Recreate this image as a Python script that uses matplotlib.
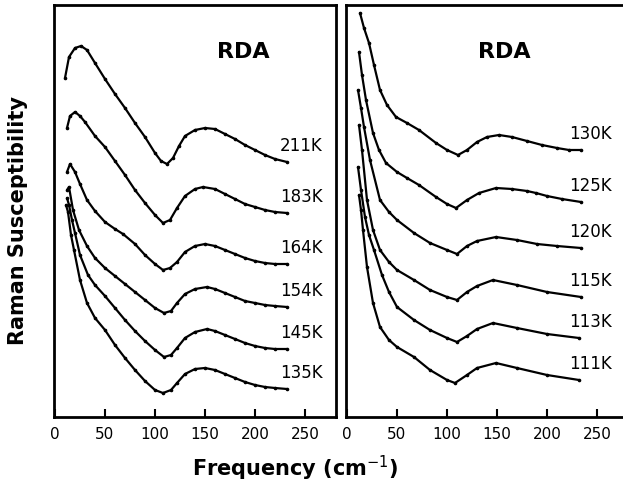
import matplotlib
matplotlib.use("Agg")
import matplotlib.pyplot as plt

# левая панель: частота (cm^-1) и сигнал (произв. ед., со сдвигом)
f_211 = [10, 14, 20, 26, 32, 40, 50, 60, 70, 80, 90, 100, 106, 112, 118, 124, 130, 140, 150, 160, 170, 180, 190, 200, 210, 220, 232]
s_211 = [339, 360, 369, 371, 367, 354, 338, 323, 309, 294, 280, 264, 256, 253, 259, 271, 281, 287, 289, 288, 283, 278, 272, 267, 262, 258, 255]

f_183 = [12, 15, 20, 25, 30, 40, 50, 60, 70, 80, 90, 100, 108, 115, 122, 130, 140, 148, 160, 170, 180, 190, 200, 210, 220, 232]
s_183 = [289, 301, 305, 301, 295, 281, 270, 256, 242, 227, 214, 202, 194, 197, 209, 221, 228, 230, 228, 223, 218, 213, 210, 207, 205, 204]

f_164 = [12, 15, 20, 25, 32, 40, 50, 60, 68, 80, 90, 100, 108, 115, 122, 130, 140, 150, 160, 170, 180, 190, 200, 210, 220, 232]
s_164 = [245, 253, 245, 233, 217, 206, 195, 188, 183, 173, 162, 153, 147, 149, 155, 165, 171, 173, 171, 167, 163, 159, 156, 154, 153, 153]

f_154 = [12, 14, 18, 24, 32, 40, 50, 60, 70, 80, 90, 100, 109, 116, 122, 130, 140, 152, 160, 170, 180, 190, 200, 210, 220, 232]
s_154 = [227, 230, 207, 187, 171, 159, 149, 141, 133, 125, 117, 109, 104, 106, 114, 123, 128, 130, 128, 124, 120, 116, 114, 112, 111, 110]

f_145 = [12, 14, 17, 20, 25, 33, 40, 50, 60, 70, 80, 90, 100, 109, 116, 122, 130, 140, 152, 160, 170, 180, 190, 200, 210, 220, 232]
s_145 = [219, 212, 197, 184, 162, 142, 132, 121, 109, 97, 86, 76, 67, 60, 62, 69, 79, 85, 88, 86, 82, 78, 74, 71, 69, 68, 68]

f_135 = [11, 13, 16, 19, 25, 32, 40, 50, 60, 70, 80, 90, 100, 108, 116, 122, 130, 140, 150, 160, 170, 180, 190, 200, 210, 220, 232]
s_135 = [212, 205, 182, 167, 137, 114, 99, 87, 72, 59, 47, 36, 27, 24, 27, 34, 43, 48, 49, 47, 43, 39, 35, 32, 30, 29, 28]

# правая панель
f_130 = [13, 17, 22, 27, 33, 40, 49, 60, 72, 89, 100, 111, 120, 130, 140, 152, 165, 180, 195, 210, 222, 234]
s_130 = [404, 389, 374, 352, 327, 312, 300, 294, 287, 274, 267, 262, 267, 275, 280, 282, 280, 276, 272, 269, 267, 267]

f_125 = [12, 15, 19, 26, 32, 39, 50, 60, 72, 89, 100, 109, 120, 132, 149, 165, 180, 189, 200, 215, 234]
s_125 = [365, 342, 317, 284, 267, 254, 245, 239, 232, 220, 213, 209, 217, 224, 229, 228, 226, 224, 221, 218, 215]

f_120 = [11, 14, 17, 23, 33, 42, 50, 67, 83, 100, 110, 120, 130, 149, 170, 190, 210, 234]
s_120 = [327, 309, 290, 257, 217, 205, 197, 184, 174, 167, 163, 171, 176, 180, 177, 173, 171, 169]

f_115 = [12, 15, 20, 26, 33, 42, 50, 67, 83, 100, 110, 120, 130, 146, 170, 200, 234]
s_115 = [292, 267, 217, 187, 167, 155, 147, 137, 127, 120, 117, 125, 131, 137, 132, 125, 120]

f_113 = [11, 14, 18, 22, 27, 35, 42, 50, 67, 83, 100, 110, 120, 130, 146, 170, 200, 232]
s_113 = [250, 227, 200, 182, 167, 142, 125, 110, 97, 87, 79, 75, 81, 88, 94, 89, 83, 79]

f_111 = [12, 14, 16, 20, 26, 33, 42, 50, 67, 83, 100, 108, 120, 130, 149, 170, 200, 232]
s_111 = [222, 207, 187, 150, 114, 90, 77, 70, 60, 47, 37, 34, 42, 49, 54, 49, 42, 37]

left_labels = ["211K", "183K", "164K", "154K", "145K", "135K"]
right_labels = ["130K", "125K", "120K", "115K", "113K", "111K"]
left_curves = [(f_211, s_211), (f_183, s_183), (f_164, s_164), (f_154, s_154), (f_145, s_145), (f_135, s_135)]
right_curves = [(f_130, s_130), (f_125, s_125), (f_120, s_120), (f_115, s_115), (f_113, s_113), (f_111, s_111)]
xticks = [0, 50, 100, 150, 200, 250]

fig = plt.figure(figsize=(6.23, 4.98), dpi=100)
ax1 = fig.add_axes([54 / 623, 81 / 498, 282 / 623, 412 / 498])
ax2 = fig.add_axes([346 / 623, 81 / 498, 282 / 623, 412 / 498])


def draw_panel(ax, curves, labels, label_x, rda_x):
    for (f, s), lab in zip(curves, labels):
        ax.plot(f, s, color="black", lw=1.6, marker="o", ms=1.6,
                solid_capstyle="round", solid_joinstyle="round")
        ax.text(label_x, s[-1] + 16, lab, fontsize=12, va="center", ha="left")
    ax.text(rda_x, 365, "RDA", fontsize=16, fontweight="bold", ha="center", va="center")
    ax.set_xlim(-1, 281)
    ax.set_ylim(0, 412)
    ax.set_xticks(xticks)
    ax.set_yticks([])
    ax.tick_params(axis="x", direction="in", length=6, width=1.5, labelsize=11, pad=7)
    for sp in ax.spines.values():
        sp.set_linewidth(2)


draw_panel(ax1, left_curves, left_labels, 225, 188)
draw_panel(ax2, right_curves, right_labels, 222, 157)

fig.text(0.029, 0.558, "Raman Susceptibility", rotation=90, fontsize=15,
         fontweight="bold", ha="center", va="center")
fig.text(0.474, 0.06, "Frequency (cm$^{-1}$)", fontsize=15,
         fontweight="bold", ha="center", va="center")

fig.savefig("out.png", dpi=100)
